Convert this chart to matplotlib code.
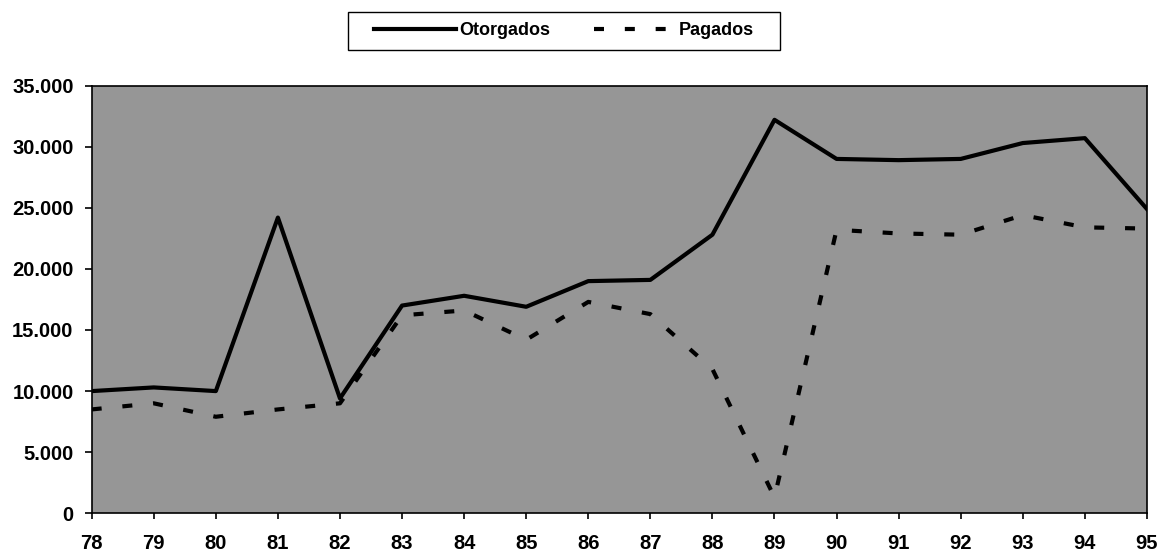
import matplotlib
matplotlib.use('Agg')
import matplotlib.pyplot as plt
from matplotlib.patches import Rectangle
from matplotlib.ticker import FuncFormatter

#--------------------------------------------------------------------------------------------------
# DATOS
#--------------------------------------------------------------------------------------------------

anios = [78, 79, 80, 81, 82, 83, 84, 85, 86, 87, 88, 89, 90, 91, 92, 93, 94, 95]
otorgados = [10000, 10300, 10000, 24200, 9400, 17000, 17800, 16900, 19000, 19100,
             22800, 32200, 29000, 28900, 29000, 30300, 30700, 24900]
pagados = [8500, 9000, 7900, 8500, 9000, 16200, 16600, 14200, 17300, 16300,
           11800, 1300, 23200, 22900, 22800, 24400, 23400, 23300]
y_ticks = [0, 5000, 10000, 15000, 20000, 25000, 30000, 35000]

#--------------------------------------------------------------------------------------------------
# PLOT
#--------------------------------------------------------------------------------------------------

plt.rcParams['font.family'] = ['Liberation Sans', 'DejaVu Sans']
plt.rcParams['font.weight'] = 'bold'

fig = plt.figure(figsize=(11.59, 5.53), dpi=100)
ax = fig.add_axes([0.0791, 0.0718, 0.9105, 0.7734])
ax.set_facecolor('#969696')

ax.plot(anios, otorgados, color='black', lw=3, label='Otorgados')
ax.plot(anios, pagados, color='black', lw=3, linestyle=(0, (2.4, 5.0)), label='Pagados')

ax.set_xlim(78, 95)
ax.set_ylim(0, 35000)
ax.set_xticks(anios)
ax.set_yticks(y_ticks)
ax.yaxis.set_major_formatter(FuncFormatter(lambda v, p: '{:,.0f}'.format(v).replace(',', '.')))
ax.tick_params(axis='both', labelsize=14.5, direction='out', width=1.2)
ax.tick_params(axis='x', length=4, pad=11)
ax.tick_params(axis='y', length=5, pad=8)
for lbl in ax.get_xticklabels() + ax.get_yticklabels():
    lbl.set_fontweight('bold')
for s in ax.spines.values():
    s.set_linewidth(1.2)

# leyenda arriba, con marco dibujado aparte (más ancho que el contenido)
leg = fig.legend(loc='center', bbox_to_anchor=(0.4866, 0.944), ncol=2, fontsize=13,
                 handlelength=4.5, handletextpad=0.2, columnspacing=2.4, frameon=False,
                 borderaxespad=0)
for t in leg.get_texts():
    t.set_fontweight('bold')
fig.patches.append(Rectangle((348 / 1159, 1 - 50 / 553), 432 / 1159, 38 / 553,
                             transform=fig.transFigure, fill=False, ec='black', lw=1.0))

plt.savefig('out.png', dpi=100)
